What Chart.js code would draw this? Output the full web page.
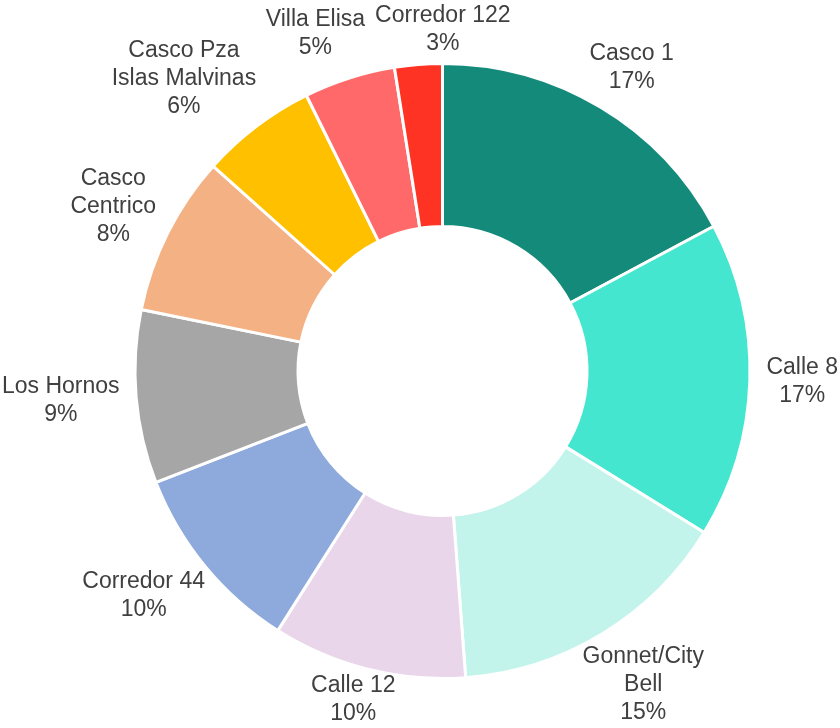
<!DOCTYPE html>
<html>
<head>
<meta charset="utf-8">
<script src="https://cdn.jsdelivr.net/npm/chart.js@4/dist/chart.umd.min.js"></script>
<style>
  html, body { margin: 0; padding: 0; background: #fff; }
  canvas { display: block; }
</style>
</head>
<body>
<canvas id="donut" width="840" height="728"></canvas>
<script>
// Datos del gráfico (sentido horario desde las 12)
const categories = [
  'Casco 1',
  'Calle 8',
  ['Gonnet/City', 'Bell'],
  'Calle 12',
  'Corredor 44',
  'Los Hornos',
  ['Casco', 'Centrico'],
  ['Casco Pza', 'Islas Malvinas'],
  'Villa Elisa',
  'Corredor 122'
];
const shares = [17.2, 16.6, 15.0, 10.2, 10.1, 9.1, 8.4, 6.1, 4.8, 2.5];
const sliceColors = [
  '#148B7A', '#45E6CF', '#C2F4EC', '#E9D6EA', '#8EAADC',
  '#A6A6A6', '#F4B183', '#FFC000', '#FF6969', '#FF3324'
];

const labelFont = '23px "Liberation Sans", Arial, sans-serif';
const lineH = 28;
const gap = 18;

// Etiquetas fuera de cada porción, con porcentaje
const outsideLabels = {
  id: 'outsideLabels',
  afterDatasetsDraw(chart) {
    const ctx = chart.ctx;
    const meta = chart.getDatasetMeta(0);
    const data = chart.data.datasets[0].data;
    const total = data.reduce((a, b) => a + b, 0);
    ctx.save();
    ctx.font = labelFont;
    ctx.fillStyle = '#404040';
    ctx.textAlign = 'center';
    ctx.textBaseline = 'middle';

    const boxes = meta.data.map((arc, i) => {
      const p = arc.getProps(['x', 'y', 'startAngle', 'endAngle', 'outerRadius'], true);
      const mid = (p.startAngle + p.endAngle) / 2;
      const ux = Math.cos(mid), uy = Math.sin(mid);
      const lines = [].concat(categories[i], Math.round(data[i] / total * 100) + '%');
      const w = Math.max(...lines.map(l => ctx.measureText(l).width));
      const h = lines.length * lineH;
      const r = p.outerRadius + gap;
      return {
        lines, w, h,
        cx: p.x + r * ux + ux * w / 2,
        cy: p.y + r * uy + uy * h / 2
      };
    });

    // Separar horizontalmente las etiquetas que se solapan
    for (let it = 0; it < 40; it++) {
      let moved = false;
      for (let a = 0; a < boxes.length; a++) {
        for (let b = a + 1; b < boxes.length; b++) {
          const A = boxes[a], B = boxes[b];
          const ox = (A.w + B.w) / 2 + 10 - Math.abs(A.cx - B.cx);
          const oy = (A.h + B.h) / 2 - Math.abs(A.cy - B.cy);
          if (ox > 0.5 && oy > 0) {
            moved = true;
            const s = A.cx < B.cx ? -1 : 1;
            A.cx += s * ox / 2; B.cx -= s * ox / 2;
          }
        }
      }
      if (!moved) break;
    }

    boxes.forEach(bx => {
      bx.cx = Math.min(Math.max(bx.cx, bx.w / 2 + 2), chart.width - bx.w / 2 - 2);
      bx.cy = Math.min(Math.max(bx.cy, bx.h / 2 + 2), chart.height - bx.h / 2);
      bx.lines.forEach((l, k) => {
        ctx.fillText(l, bx.cx, bx.cy - bx.h / 2 + lineH * (k + 0.5));
      });
    });
    ctx.restore();
  }
};

new Chart(document.getElementById('donut').getContext('2d'), {
  type: 'doughnut',
  data: {
    labels: categories,
    datasets: [{
      data: shares,
      backgroundColor: sliceColors,
      borderColor: '#ffffff',
      borderWidth: 3
    }]
  },
  options: {
    responsive: false,
    devicePixelRatio: 1,
    animation: false,
    cutout: '47%',
    layout: { padding: { top: 62, bottom: 48, left: 100, right: 55 } },
    plugins: {
      legend: { display: false },
      tooltip: { enabled: false }
    }
  },
  plugins: [outsideLabels]
});
</script>
</body>
</html>
